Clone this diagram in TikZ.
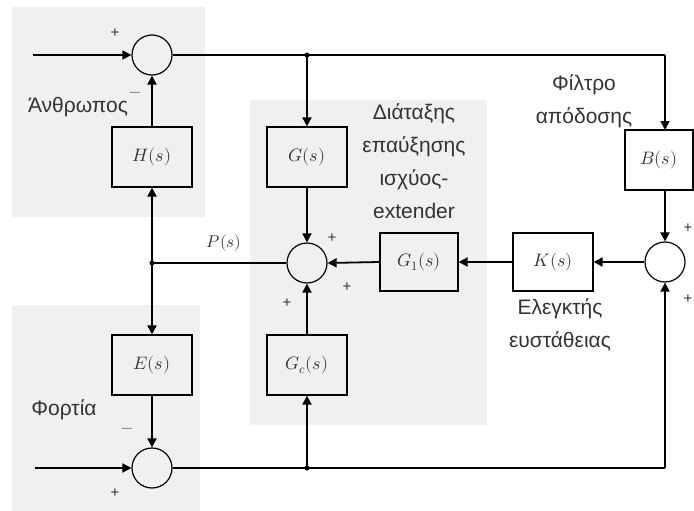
\documentclass[tikz,border=0pt]{standalone}
\usepackage{fontspec}
\setmainfont{Liberation Sans}
\usepackage{unicode-math}
\setmathfont{Latin Modern Math}
\usetikzlibrary{arrows.meta}
\begin{document}
\begin{tikzpicture}[x=1pt,y=-1pt,
  line width=1.8pt,
  bg/.style={fill=black!6,draw=none},
  blk/.style={draw,line width=1.2pt,minimum width=80pt,minimum height=60pt,inner sep=0pt,font=\fontsize{18}{20}\selectfont,text=black!80},
  sum/.style={draw,line width=1.2pt,circle,minimum size=40pt,inner sep=0pt},
  arr/.style={-{Triangle[length=9pt,width=9pt]}},
  lbl/.style={font=\fontsize{21}{33}\selectfont,text=black!80,align=center},
  sgn/.style={font=\fontsize{15}{15}\selectfont,text=black!80},
  dot/.style={circle,fill,inner sep=0pt,minimum size=5pt}]
\useasboundingbox (0,0) rectangle (694,511);
\fill[white] (0,0) rectangle (694,511);
\fill[bg] (12,7) rectangle (205,217);
\fill[bg] (12,305) rectangle (200,511);
\fill[bg] (250,100) rectangle (487,425);
% nodes
\node[sum] (s1) at (152,55) {};
\node[blk] (H) at (152,157) {$H(s)$};
\coordinate (j1) at (152,263);
\node[blk] (E) at (152,365) {$E(s)$};
\node[sum] (s2) at (152,468) {};
\node[blk] (G) at (307,157) {$G(s)$};
\node[sum] (s3) at (307,263) {};
\node[blk] (Gc) at (307,365) {$G_c(s)$};
\node[blk,minimum width=78pt,minimum height=58pt] (G1) at (419,262) {$G_1(s)$};
\node[blk,minimum height=58pt] (K) at (553,262) {$K(s)$};
\node[sum] (s4) at (665,262) {};
\node[blk,minimum width=68pt] (B) at (659,160) {$B(s)$};
\coordinate (in1) at (33,55);
\coordinate (in2) at (35,468);
\coordinate (tj) at (307,55);
\coordinate (tr) at (665,55);
\coordinate (bj) at (307,468);
\coordinate (br) at (665,468);
\coordinate (bt) at (665,130);
\coordinate (bb) at (665,190);
\node[dot] (d1) at (tj) {};
\node[dot] (d2) at (j1) {};
\node[dot] (d3) at (bj) {};
% connectors
\draw[arr] (in1) -- (s1.west);
\draw (s1.east) -- (tr);
\draw[arr] (tr) -- (bt);
\draw[arr] (tj) -- (G.north);
\draw[arr] (G.south) -- (s3.north);
\draw[arr] (H.north) -- (s1.south);
\draw[arr] (j1) -- (H.south);
\draw[arr] (j1) -- (E.north);
\draw[arr] (E.south) -- (s2.north);
\draw (s3.west) -- (j1);
\draw[arr] (in2) -- (s2.west);
\draw (s2.east) -- (br);
\draw[arr] (br) -- (s4.south);
\draw[arr] (bj) -- (Gc.south);
\draw[arr] (Gc.north) -- (s3.south);
\draw[arr] (bb) -- (s4.north);
\draw[arr] (s4.west) -- (K.east);
\draw[arr] (K.west) -- (G1.east);
\draw[arr] (G1.west) -- (s3.east);
% labels
\node[lbl] (l1) at (78,107) {Άνθρωπος};
\node[lbl] (l2) at (64,410) {Φορτία};
\node[lbl] (l3) at (584,101) {Φίλτρο\\απόδοσης};
\node[lbl] (l4) at (414,161) {Διάταξης\\επαύξησης\\ισχύος-\\extender};
\node[lbl] (l5) at (560,325) {Ελεγκτής\\ευστάθειας};
\node[font=\fontsize{17}{17}\selectfont,text=black!80] (P) at (224,243) {$P(s)$};
% signs
\node[sgn] (p1) at (115,33) {+};
\node[sgn] (m1) at (135,94) {$-$};
\node[sgn] (m2) at (127,430) {$-$};
\node[sgn] (p2) at (115,493) {+};
\node[sgn] (p3) at (332,238) {+};
\node[sgn] (p4) at (347,287) {+};
\node[sgn] (p5) at (287,303) {+};
\node[sgn] (p6) at (688,228) {+};
\node[sgn] (p7) at (688,299) {+};
\end{tikzpicture}
\end{document}
